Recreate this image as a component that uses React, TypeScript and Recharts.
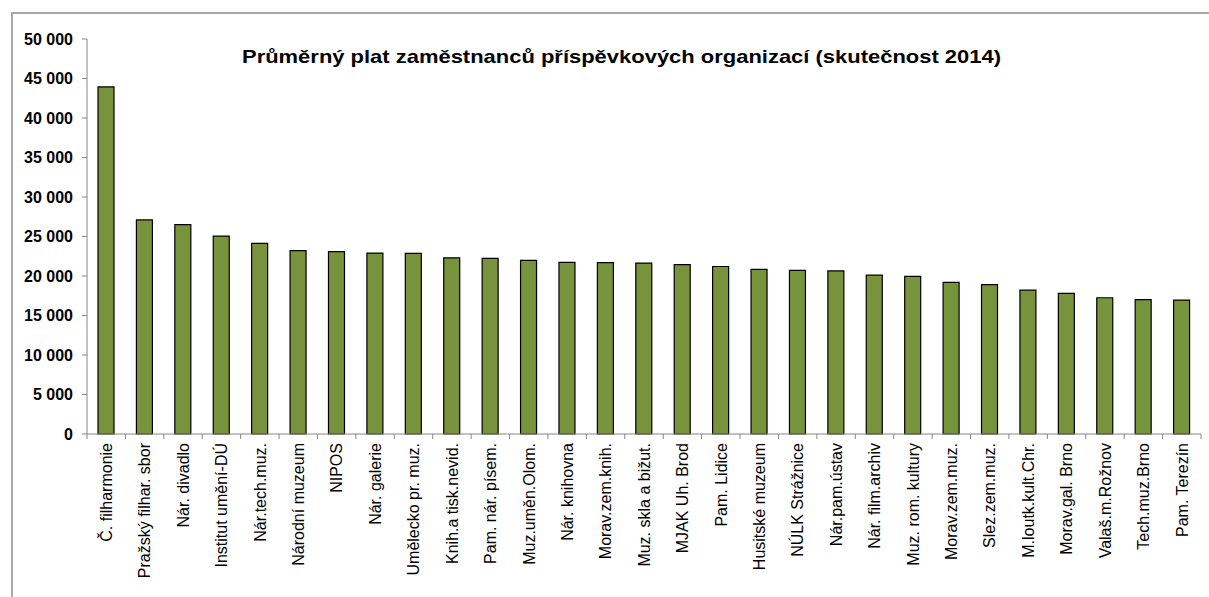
import React from 'react';
import { BarChart, Bar, XAxis, YAxis } from 'recharts';

const title = 'Průměrný plat zaměstnanců příspěvkových organizací (skutečnost 2014)';

const categories = [
  'Č. filharmonie',
  'Pražský filhar. sbor',
  'Nár. divadlo',
  'Institut umění-DÚ',
  'Nár.tech.muz.',
  'Národní muzeum',
  'NIPOS',
  'Nár. galerie',
  'Umělecko pr. muz.',
  'Knih.a tisk.nevid.',
  'Pam. nár. písem.',
  'Muz.uměn.Olom.',
  'Nár. knihovna',
  'Morav.zem.knih.',
  'Muz. skla a bižut.',
  'MJAK Uh. Brod',
  'Pam. Lidice',
  'Husitské muzeum',
  'NÚLK Strážnice',
  'Nár.pam.ústav',
  'Nár. film.archiv',
  'Muz. rom. kultury',
  'Morav.zem.muz.',
  'Slez.zem.muz.',
  'M.loutk.kult.Chr.',
  'Morav.gal. Brno',
  'Valaš.m.Rožnov',
  'Tech.muz.Brno',
  'Pam. Terezín',
];

const salaries = [
  43950, 27100, 26500, 25050, 24120, 23200, 23080, 22900, 22860, 22300,
  22220, 21980, 21720, 21700, 21640, 21450, 21200, 20830, 20700, 20650,
  20100, 19950, 19200, 18900, 18200, 17800, 17250, 17000, 16950,
];

const yTicks = [0, 5000, 10000, 15000, 20000, 25000, 30000, 35000, 40000, 45000, 50000];

const data = categories.map((name, i) => ({ name, value: salaries[i] }));

const FONT = '"Liberation Sans", Arial, sans-serif';
const AXIS_GRAY = '#868686';
const PLOT_LEFT = 87;
const PLOT_RIGHT = 1201;

const fmt = (v: number) =>
  v < 1000 ? String(v) : `${Math.floor(v / 1000)} ${String(v % 1000).padStart(3, '0')}`;

const XTick = (props: any) => {
  const { x, y, payload, index } = props;
  const bw = (PLOT_RIGHT - PLOT_LEFT) / categories.length;
  const ty = y + 9;
  return (
    <g>
      <line x1={x - bw / 2} y1={y} x2={x - bw / 2} y2={y + 5} stroke={AXIS_GRAY} />
      {index === categories.length - 1 && (
        <line x1={x + bw / 2} y1={y} x2={x + bw / 2} y2={y + 5} stroke={AXIS_GRAY} />
      )}
      <text
        x={x}
        y={ty}
        transform={`rotate(-90 ${x} ${ty})`}
        textAnchor="end"
        dy="0.36em"
        fontSize={16}
        fontFamily={FONT}
        fill="#000"
      >
        {payload.value}
      </text>
    </g>
  );
};

export default function App() {
  return (
    <div
      style={{
        position: 'fixed',
        left: 0,
        top: 0,
        width: 1209,
        height: 597,
        overflow: 'hidden',
        background: '#fff',
      }}
    >
      <div
        style={{
          position: 'absolute',
          left: 11,
          top: 12,
          width: 1300,
          height: 700,
          border: '2px solid #A8A8A8',
          boxSizing: 'border-box',
        }}
      />
      <svg
        width={1209}
        height={80}
        style={{ position: 'absolute', left: 0, top: 0 }}
      >
        <text
          x={621.5}
          y={62.5}
          textAnchor="middle"
          fontSize={18.5}
          fontWeight="bold"
          fontFamily={FONT}
          textLength={759}
          lengthAdjust="spacingAndGlyphs"
          fill="#000"
        >
          {title}
        </text>
      </svg>
      <div style={{ position: 'absolute', left: 0, top: 0 }}>
        <BarChart
          width={1209}
          height={597}
          data={data}
          margin={{ top: 39, right: 8, left: 0, bottom: 0 }}
          barCategoryGap="58%"
        >
          <XAxis
            dataKey="name"
            height={163}
            interval={0}
            tickLine={false}
            tickSize={0}
            tickMargin={0}
            axisLine={{ stroke: AXIS_GRAY }}
            tick={<XTick />}
          />
          <YAxis
            width={87}
            domain={[0, 50000]}
            ticks={yTicks}
            interval={0}
            tickFormatter={fmt}
            tickSize={5}
            tickMargin={9}
            tickLine={{ stroke: AXIS_GRAY }}
            axisLine={{ stroke: AXIS_GRAY }}
            tick={{ fontSize: 16, fontWeight: 'bold', fontFamily: FONT, fill: '#000' }}
          />
          <Bar
            dataKey="value"
            fill="#77933C"
            stroke="#000"
            strokeWidth={1.2}
            barSize={16}
            isAnimationActive={false}
          />
        </BarChart>
      </div>
    </div>
  );
}
